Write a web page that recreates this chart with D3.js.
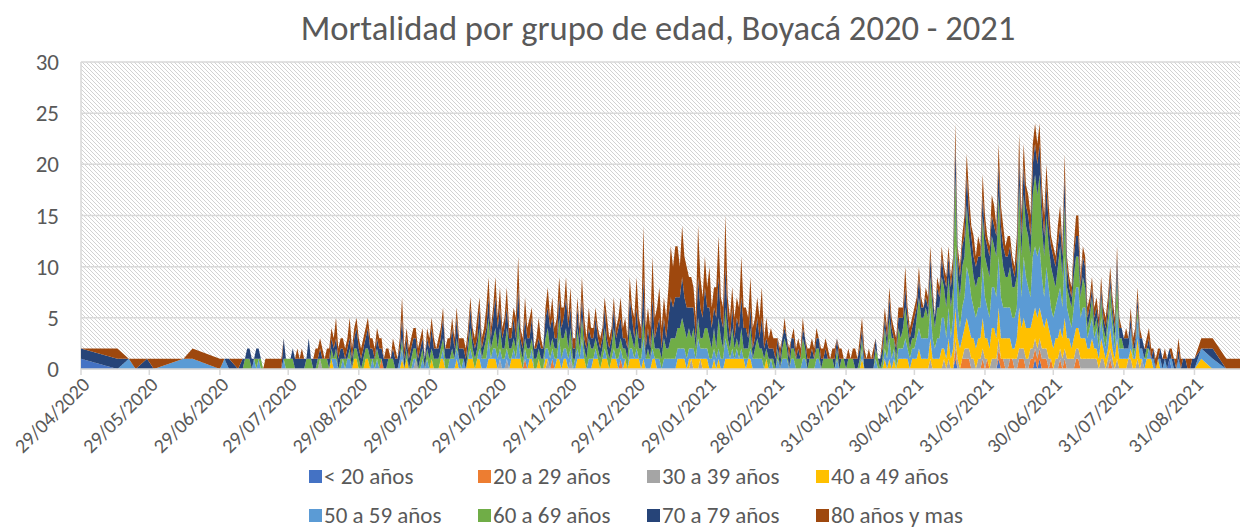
<!DOCTYPE html>
<html lang="es">
<head>
<meta charset="UTF-8">
<title>Mortalidad por grupo de edad, Boyacá 2020 - 2021</title>
<script src="https://cdn.jsdelivr.net/npm/d3@7"></script>
<style>
  body { margin: 0; background: #fff; }
  svg { display: block; font-family: Carlito, Calibri, Lato, sans-serif; }
</style>
</head>
<body>
<svg id="chart" width="1240" height="532"></svg>
<script>
// grupos de edad y colores (orden de apilado, de abajo hacia arriba)
const grupos = ["< 20 años", "20 a 29 años", "30 a 39 años", "40 a 49 años",
                "50 a 59 años", "60 a 69 años", "70 a 79 años", "80 años y mas"];
const colores = ["#4472C4", "#ED7D31", "#A5A5A5", "#FFC000",
                 "#5B9BD5", "#70AD47", "#264478", "#9E480E"];

// fechas: primeros registros dispersos, luego serie diaria, luego registros dispersos
const fechasIniciales = ["2020-04-29", "2020-05-15", "2020-05-20", "2020-05-23", "2020-05-28", "2020-05-31",
                         "2020-06-13", "2020-06-17", "2020-06-29", "2020-07-01", "2020-07-03", "2020-07-07"];
const inicioDiario = "2020-07-09";
const finDiario = "2021-08-31";
const fechasFinales = ["2021-09-03", "2021-09-08", "2021-09-14", "2021-09-20"];

const ticksX = ["2020-04-29", "2020-05-29", "2020-06-29", "2020-07-29", "2020-08-29", "2020-09-29",
                "2020-10-29", "2020-11-29", "2020-12-29", "2021-01-29", "2021-02-28", "2021-03-31",
                "2021-04-30", "2021-05-31", "2021-06-30", "2021-07-31", "2021-08-31"];
const ticksY = [0, 5, 10, 15, 20, 25, 30];

// muertes diarias por grupo (inicio, jul 2020 ... ago 2021, fin)
const menor20 = [
  1,0,0,0,0,0,0,0,0,0,0,0,
  0,0,0,0,0,0,0,0,0,0,0,0,0,0,0,0,0,0,0,0,0,0,0,
  0,0,0,0,0,0,0,0,0,0,0,0,0,0,0,0,0,0,0,0,0,0,0,0,0,0,0,0,0,0,0,
  0,0,0,0,0,0,0,0,0,0,0,0,0,0,0,0,0,0,0,0,0,0,0,0,0,0,0,0,0,0,
  0,0,0,0,0,0,0,0,0,0,0,0,0,0,0,0,0,0,0,0,0,0,0,0,0,0,0,0,0,0,0,
  0,0,0,0,0,0,0,0,0,0,0,0,0,0,0,0,0,0,0,0,0,0,0,0,0,0,0,0,0,0,
  0,0,0,0,0,0,0,0,0,0,0,0,0,0,0,0,0,0,0,0,0,0,0,0,0,0,0,0,0,0,0,
  0,0,0,0,0,0,0,0,0,0,0,0,0,0,0,0,0,0,0,0,0,0,0,0,0,0,0,0,0,0,0,
  0,0,0,0,0,0,0,0,0,0,0,0,0,0,0,0,0,0,0,0,0,0,0,0,0,0,0,0,
  0,0,0,0,0,0,0,0,0,0,0,0,0,0,0,0,0,0,0,0,0,0,0,0,0,0,0,0,0,0,0,
  0,0,0,0,0,0,0,0,0,0,0,0,0,0,0,0,0,0,0,0,0,0,0,0,0,0,0,0,0,0,
  0,0,0,0,0,0,0,0,0,0,0,0,0,0,0,0,0,1,0,0,0,0,0,0,0,0,0,0,0,0,0,
  0,0,0,0,0,1,0,0,0,0,0,0,0,0,0,0,0,0,0,0,0,1,0,1,0,0,0,0,0,0,
  0,0,0,0,0,0,0,0,0,0,0,0,0,0,0,0,0,0,0,0,0,0,0,0,0,0,0,0,0,0,0,
  0,0,0,0,0,0,0,0,0,0,0,0,0,0,0,0,0,0,0,1,0,0,0,0,0,0,0,0,0,0,0,
  0,0,0,0
];
const veinte = [
  0,0,0,0,0,0,0,0,0,0,0,0,
  0,0,0,0,0,0,0,0,0,0,0,0,0,0,0,0,0,0,0,0,0,0,0,
  0,0,0,0,0,0,0,0,0,0,0,0,0,0,0,0,0,0,0,0,0,0,0,0,0,0,0,0,0,0,0,
  0,0,0,0,0,0,0,1,0,0,0,0,0,0,0,0,0,0,0,0,0,0,0,0,0,0,0,0,0,0,
  0,0,0,0,0,0,0,0,0,0,0,0,0,0,0,0,0,0,0,0,0,0,0,0,0,0,0,0,0,0,0,
  0,0,0,0,0,0,0,0,0,1,0,0,0,0,0,0,0,0,0,0,0,1,0,0,0,0,0,0,0,0,
  0,0,0,0,0,0,0,0,0,0,0,0,0,0,0,0,0,0,0,0,0,1,0,0,0,0,0,0,0,0,0,
  0,0,0,0,0,0,0,0,0,0,0,0,0,0,0,0,0,0,0,0,0,0,0,0,0,0,0,0,0,0,0,
  0,0,0,0,0,0,0,0,0,0,0,0,0,0,0,0,0,0,0,0,0,0,0,0,0,0,0,0,
  0,0,0,0,0,0,0,0,0,0,0,0,0,0,0,0,0,0,0,0,0,0,0,0,0,0,0,0,0,0,0,
  0,0,0,0,0,0,0,0,0,0,0,0,0,0,0,0,0,0,0,0,0,0,0,0,0,0,0,0,0,0,
  0,0,0,0,0,0,0,0,0,0,0,0,0,0,0,0,0,1,0,0,1,1,1,1,0,0,0,0,0,1,0,
  1,0,0,0,0,1,1,1,0,0,1,1,0,0,1,1,1,0,0,1,1,1,1,1,1,1,1,0,1,0,
  0,0,1,0,1,0,0,0,0,1,1,0,0,0,0,0,0,0,0,0,0,0,0,0,1,0,0,0,0,0,0,
  0,0,0,0,0,0,0,0,0,0,0,0,0,0,0,0,0,0,0,0,0,0,0,0,0,0,0,0,0,0,0,
  0,0,0,0
];
const treinta = [
  0,0,0,0,0,0,0,0,0,0,0,0,
  0,0,0,0,0,0,0,0,0,0,0,0,0,0,0,0,0,0,0,0,0,0,0,
  0,0,0,0,0,0,0,0,0,0,0,1,0,0,0,0,0,0,0,0,0,0,0,0,0,0,0,0,0,0,0,
  0,0,0,0,0,0,0,0,0,0,0,0,0,0,0,0,0,0,0,0,0,0,1,0,0,0,0,0,0,0,
  0,0,0,0,0,0,0,0,0,0,0,0,0,0,0,0,0,0,0,0,0,0,0,0,0,0,0,0,0,1,0,
  0,1,0,0,0,0,0,0,0,0,0,0,0,0,0,0,0,0,0,1,0,0,0,0,0,0,0,0,0,1,
  0,0,0,0,0,0,0,0,0,0,0,0,0,0,0,0,0,0,0,0,0,0,0,0,0,0,0,0,0,0,0,
  0,0,0,0,0,0,0,0,0,0,0,0,0,0,0,0,0,0,0,0,0,1,0,0,0,1,0,0,0,0,0,
  0,0,0,0,0,0,0,0,0,0,0,0,0,0,0,0,0,0,0,0,0,0,0,0,0,0,0,0,
  0,0,0,0,0,0,0,0,0,0,0,0,0,0,0,0,0,0,0,0,0,0,0,0,0,0,0,0,0,0,0,
  0,0,0,0,0,0,0,0,0,0,0,0,0,0,0,0,0,0,0,0,0,0,0,0,0,0,0,0,0,0,
  0,0,0,0,0,0,1,0,0,0,0,0,1,0,1,0,0,1,1,0,0,1,1,1,1,1,0,1,1,1,1,
  0,0,1,1,1,1,0,0,1,1,0,0,1,1,1,1,1,1,1,1,1,1,1,1,1,1,1,1,0,0,
  1,1,1,1,1,1,1,1,1,1,1,1,1,1,1,1,1,1,1,0,1,1,0,1,1,1,0,1,0,0,0,
  0,1,1,0,0,1,0,1,0,0,0,0,0,0,0,0,0,0,0,0,0,0,0,0,0,0,0,0,0,0,0,
  0,0,0,0
];
const cuarenta = [
  0,0,0,0,0,0,0,0,0,0,0,0,
  0,0,0,0,0,0,0,0,0,0,0,0,0,0,0,0,0,0,0,0,0,0,0,
  0,0,0,0,0,0,0,0,0,0,0,0,0,0,0,0,1,0,0,0,0,0,0,0,0,0,1,1,0,0,0,
  1,1,0,0,0,0,0,0,0,0,0,0,0,0,0,0,1,0,1,0,0,0,0,0,0,0,0,0,0,1,
  0,0,0,1,1,0,0,0,0,0,1,0,0,0,0,1,1,1,0,1,1,0,0,0,1,1,1,1,0,0,0,
  0,0,0,1,1,1,1,1,0,0,0,1,1,0,0,1,0,0,1,0,0,0,0,1,1,0,1,1,0,0,
  0,0,1,1,1,1,0,0,0,1,1,1,0,1,1,1,0,1,1,1,0,0,0,1,0,1,1,1,1,1,0,
  1,0,0,0,1,1,0,0,0,0,0,0,0,0,0,1,1,1,1,0,1,0,1,1,1,0,1,1,1,0,0,
  1,0,1,0,0,1,1,1,1,1,1,1,1,1,0,1,1,0,0,0,0,0,0,1,0,0,0,0,
  0,0,0,0,0,0,0,0,0,0,0,0,0,0,0,0,0,0,0,0,0,0,0,0,0,0,0,0,0,0,0,
  0,0,0,0,0,0,1,0,0,0,0,0,0,0,0,0,1,0,1,0,1,0,1,1,1,1,1,0,1,1,
  1,2,1,1,1,1,2,1,1,1,1,2,1,1,2,1,2,3,2,2,2,2,3,2,2,2,2,2,2,3,2,
  2,2,3,3,2,3,2,2,2,2,2,1,1,2,4,2,3,3,3,2,3,3,3,3,3,2,3,3,2,2,
  2,2,2,2,3,2,2,1,2,2,2,2,2,2,1,1,2,1,1,1,2,1,1,1,2,1,1,2,1,1,1,
  1,0,1,1,1,2,1,0,0,1,1,1,0,0,1,0,0,0,0,0,0,0,0,0,0,0,0,0,0,0,0,
  1,0,0,0
];
const cincuenta = [
  0,0,1,0,0,0,1,1,0,1,0,0,
  0,0,0,0,0,1,0,1,0,0,0,0,0,0,0,0,0,0,1,0,0,0,0,
  0,0,0,0,0,0,0,0,0,0,0,0,0,0,0,0,0,1,1,0,0,1,0,1,1,0,0,0,0,0,0,
  0,0,0,1,0,1,0,0,0,0,0,0,0,0,0,1,1,0,0,0,0,1,0,0,0,1,0,1,0,0,
  0,0,0,0,1,0,0,1,1,1,1,1,0,1,0,0,1,0,0,0,1,1,1,1,2,0,1,1,1,1,1,
  1,1,1,0,1,0,2,0,0,1,1,0,1,0,0,0,0,0,1,1,1,1,1,0,2,1,1,1,1,1,
  0,1,1,0,2,0,0,1,1,0,1,0,0,0,1,0,0,0,1,0,1,1,1,0,0,1,1,0,1,0,1,
  2,1,1,1,1,0,1,1,0,1,1,1,1,1,1,1,1,1,1,1,1,1,1,0,2,1,1,1,1,1,1,
  1,1,1,1,1,2,1,0,1,0,1,0,1,0,1,0,1,1,1,1,1,1,0,0,0,1,0,0,
  1,0,1,1,1,0,1,1,0,0,0,1,1,0,0,0,0,1,1,0,0,0,0,0,0,0,1,0,0,0,0,
  0,0,0,0,0,0,1,0,0,0,0,0,1,0,0,0,1,1,2,1,1,0,1,1,1,2,1,1,1,1,
  2,2,2,2,2,2,3,2,1,2,2,3,3,2,3,2,3,6,3,2,3,3,5,5,4,3,3,3,3,5,4,
  3,3,4,4,4,5,4,3,3,3,3,3,3,3,6,3,6,5,4,3,6,6,6,6,4,3,5,4,3,3,
  3,4,4,3,6,3,2,2,3,4,4,2,3,3,1,2,2,1,2,1,2,1,1,2,2,2,1,3,1,1,1,
  1,1,2,0,1,2,1,1,1,0,1,0,1,0,0,1,0,1,0,0,1,0,0,1,0,0,0,0,0,0,0,
  1,1,0,0
];
const sesenta = [
  0,0,0,0,0,0,0,0,0,0,0,0,
  0,1,1,1,0,0,1,0,1,0,0,0,0,0,0,0,0,0,0,1,1,1,1,
  0,0,0,0,0,1,1,1,0,0,1,0,1,1,1,0,1,0,1,0,1,0,1,0,1,0,1,1,1,0,1,
  1,1,1,0,1,1,1,0,0,0,1,1,1,0,0,0,1,0,1,0,1,1,1,0,1,1,0,1,1,1,
  1,1,1,1,1,1,1,0,1,0,1,0,1,0,0,1,2,1,1,1,2,0,1,2,2,1,1,2,1,2,1,
  1,2,1,1,1,1,2,1,1,1,1,1,1,1,1,1,1,1,1,2,1,1,1,1,2,2,1,2,1,2,
  1,0,2,1,2,1,1,2,1,1,1,1,1,1,2,1,1,1,2,1,1,1,1,1,1,2,1,1,2,1,1,
  2,0,1,0,2,1,1,1,1,2,1,1,2,2,2,2,2,3,2,2,2,1,2,1,2,1,1,2,2,2,1,
  2,1,3,2,1,3,1,1,2,1,1,1,2,1,1,1,2,0,1,2,1,1,1,1,1,0,1,0,
  1,0,1,2,1,0,1,1,1,1,1,2,1,0,1,1,1,1,1,0,1,1,1,1,1,0,1,0,1,1,0,
  1,1,1,0,0,1,1,0,0,0,0,0,1,1,0,1,2,1,2,2,1,1,2,1,2,3,2,1,1,1,
  2,3,2,2,3,2,3,3,2,3,3,4,3,3,3,3,3,7,3,3,4,4,6,4,4,3,3,3,3,5,4,
  4,4,5,4,4,6,5,4,3,3,4,3,3,3,6,4,6,5,5,4,6,7,6,7,5,4,5,4,4,4,
  2,3,4,3,5,2,2,2,3,3,3,2,3,2,1,1,2,1,1,1,2,1,1,1,2,1,1,3,1,1,0,
  0,0,0,1,0,1,0,0,0,1,0,0,0,0,0,0,0,0,0,0,0,0,0,0,0,0,0,0,0,0,0,
  0,0,0,0
];
const setenta = [
  1,1,0,0,1,0,0,0,0,0,1,0,
  1,0,1,1,1,0,1,1,0,0,0,0,0,0,0,0,0,0,2,0,0,0,1,
  1,1,1,1,1,0,2,0,1,1,0,1,0,0,0,1,1,1,1,1,1,1,0,1,1,1,1,2,1,1,1,
  1,2,1,1,0,1,1,1,1,1,0,0,1,1,1,1,2,1,1,1,1,1,1,1,1,1,1,1,1,2,
  1,1,1,1,2,1,1,1,2,1,2,1,1,1,1,1,2,1,1,1,2,1,1,1,2,1,2,3,2,2,1,
  2,2,1,1,2,1,3,1,1,2,1,1,2,1,1,1,1,1,2,2,2,2,1,1,2,1,2,3,2,2,
  1,1,2,1,2,1,1,1,1,1,2,1,1,1,2,1,1,1,2,1,2,2,1,1,1,3,2,1,2,1,1,
  4,1,2,1,3,1,2,3,1,2,1,3,4,3,4,3,3,4,3,3,2,3,2,1,4,3,2,4,2,3,2,
  2,3,4,2,2,4,2,1,2,1,2,2,3,2,2,1,2,1,1,2,1,3,1,1,1,1,1,1,
  1,1,1,1,1,1,1,1,0,1,0,1,1,1,0,1,0,1,1,1,0,1,0,0,0,1,1,1,0,0,1,
  0,0,0,1,1,1,1,1,1,1,1,1,1,0,1,1,1,1,2,1,0,1,1,2,1,2,1,1,1,2,
  1,2,1,1,1,1,2,1,1,2,1,2,1,2,2,2,2,3,2,2,2,2,3,2,2,2,2,2,2,2,2,
  2,2,2,2,2,3,2,2,2,2,2,2,1,2,3,2,3,2,2,2,3,3,3,3,2,2,3,2,2,2,
  2,2,2,2,3,2,1,1,2,2,2,1,2,2,1,1,1,1,1,1,1,1,1,1,1,1,1,2,1,1,1,
  1,1,1,0,1,1,1,1,1,0,1,0,1,0,0,1,1,0,1,1,0,1,0,1,0,1,1,0,0,1,1,
  0,1,0,0
];
const ochenta = [
  0,1,0,1,0,1,0,1,1,0,0,1,
  0,0,0,0,0,0,0,0,0,0,1,1,1,1,1,1,1,1,0,0,0,0,0,
  0,1,0,1,0,0,0,0,0,1,1,1,1,0,1,1,1,1,2,1,1,1,1,1,2,1,1,1,1,1,1,
  1,1,1,1,1,1,1,1,0,1,1,0,1,1,0,1,2,1,1,1,1,1,1,1,1,1,0,1,1,1,
  1,0,1,1,1,0,1,1,1,1,1,1,1,1,1,1,1,1,1,2,1,1,1,2,2,1,1,2,1,2,1,
  1,2,1,1,1,2,3,1,1,2,1,2,1,0,1,2,1,0,1,2,1,2,1,2,2,2,1,2,1,2,
  1,1,1,1,2,2,1,2,1,1,1,1,1,1,1,2,1,1,1,1,1,2,1,2,1,2,1,2,3,2,1,
  5,2,2,2,4,2,2,3,2,2,2,3,5,4,5,5,3,5,4,4,3,3,2,2,5,3,2,3,2,4,2,
  2,3,4,2,2,5,2,2,2,2,2,2,4,2,2,2,3,2,2,2,2,3,1,2,1,2,1,2,
  0,1,0,1,0,1,0,1,1,1,1,1,0,1,1,1,1,1,0,1,1,1,1,0,1,1,0,1,1,0,0,
  1,0,1,1,0,1,1,1,0,1,0,1,0,0,0,1,1,1,1,1,1,1,1,1,1,2,1,1,1,1,
  1,1,1,0,1,1,1,1,0,1,1,1,1,1,1,1,1,2,1,1,1,2,2,2,1,2,1,2,1,2,2,
  1,1,2,2,1,2,2,2,1,2,1,1,1,2,2,2,2,2,2,2,2,2,2,2,2,2,2,2,1,1,
  1,2,2,1,2,1,1,1,1,2,2,1,1,1,1,1,1,1,1,1,1,1,1,1,1,1,1,1,1,0,0,
  1,0,1,1,1,1,1,0,0,1,1,1,0,1,1,0,0,1,0,0,1,0,1,1,1,0,0,1,1,0,0,
  1,1,1,1
];

const series = [menor20, veinte, treinta, cuarenta, cincuenta, sesenta, setenta, ochenta];

const margen = { izq: 81, der: 1240, arriba: 62, abajo: 369 };
const gris = "#595959";
const lineaGris = "#d9d9d9";

const parse = d3.utcParse("%Y-%m-%d");
const fmt = d3.utcFormat("%d/%m/%Y");

const fechas = fechasIniciales.map(parse)
  .concat(d3.utcDay.range(parse(inicioDiario), d3.utcDay.offset(parse(finDiario), 1)))
  .concat(fechasFinales.map(parse));

const filas = fechas.map((f, i) => {
  const o = { fecha: f };
  grupos.forEach((g, j) => { o[g] = series[j][i] || 0; });
  return o;
});

const pila = d3.stack().keys(grupos)(filas);

const x = d3.scaleUtc()
  .domain([parse("2020-04-29"), parse("2021-09-20")])
  .range([margen.izq, margen.der]);
const y = d3.scaleLinear().domain([0, 30]).range([margen.abajo, margen.arriba]);

const svg = d3.select("#chart");

// trama diagonal del fondo del área de trazado
const defs = svg.append("defs");
const trama = defs.append("pattern")
  .attr("id", "rayas")
  .attr("patternUnits", "userSpaceOnUse")
  .attr("width", 4).attr("height", 4);
trama.append("rect").attr("width", 4).attr("height", 4).attr("fill", "#fff");
trama.append("path")
  .attr("d", "M-1,-1 L5,5 M3,-1 L5,1 M-1,3 L1,5")
  .attr("stroke", "#d2d2d2")
  .attr("stroke-width", 1);

svg.append("rect")
  .attr("x", margen.izq).attr("y", margen.arriba)
  .attr("width", margen.der - margen.izq)
  .attr("height", margen.abajo - margen.arriba)
  .attr("fill", "url(#rayas)");

// líneas de cuadrícula
svg.append("g").selectAll("line").data(ticksY).join("line")
  .attr("x1", margen.izq).attr("x2", margen.der)
  .attr("y1", d => y(d)).attr("y2", d => y(d))
  .attr("stroke", lineaGris).attr("stroke-width", 1.5);

svg.append("line")
  .attr("x1", margen.izq).attr("x2", margen.izq)
  .attr("y1", margen.arriba).attr("y2", margen.abajo)
  .attr("stroke", lineaGris).attr("stroke-width", 1.5);

// áreas apiladas
const area = d3.area()
  .x(d => x(d.data.fecha))
  .y0(d => y(d[0]))
  .y1(d => y(d[1]));

svg.append("g").selectAll("path").data(pila).join("path")
  .attr("d", area)
  .attr("fill", (d, i) => colores[i]);

// eje x
svg.append("line")
  .attr("x1", margen.izq).attr("x2", margen.der)
  .attr("y1", margen.abajo).attr("y2", margen.abajo)
  .attr("stroke", lineaGris).attr("stroke-width", 1.5);

const gx = svg.append("g");
gx.selectAll("line").data(ticksX).join("line")
  .attr("x1", d => x(parse(d))).attr("x2", d => x(parse(d)))
  .attr("y1", margen.abajo).attr("y2", margen.abajo + 6)
  .attr("stroke", lineaGris).attr("stroke-width", 1.5);

gx.selectAll("text").data(ticksX).join("text")
  .attr("transform", d => `translate(${x(parse(d)) + 5},${margen.abajo + 12}) rotate(-45)`)
  .attr("text-anchor", "end")
  .attr("dy", "0.35em")
  .attr("font-size", 20)
  .attr("fill", gris)
  .text(d => fmt(parse(d)));

// eje y
svg.append("g").selectAll("text").data(ticksY).join("text")
  .attr("x", 59).attr("y", d => y(d))
  .attr("dy", "0.35em")
  .attr("text-anchor", "end")
  .attr("font-size", 23)
  .attr("fill", gris)
  .text(d => d);

// título
const titulo = svg.append("text")
  .attr("x", 658).attr("y", 40)
  .attr("text-anchor", "middle")
  .attr("font-size", 34)
  .attr("fill", gris)
  .text("Mortalidad por grupo de edad, Boyacá 2020 - 2021");
const anchoTitulo = titulo.node().getComputedTextLength();
titulo.attr("font-size", 34 * 715 / anchoTitulo);

// leyenda
const colX = [309, 478, 647, 816];
const filaY = [476, 515];
const leyenda = svg.append("g").selectAll("g").data(grupos).join("g")
  .attr("transform", (d, i) => `translate(${colX[i % 4]},${filaY[Math.floor(i / 4)]})`);
leyenda.append("rect")
  .attr("x", 0).attr("y", -6).attr("width", 13).attr("height", 13)
  .attr("fill", (d, i) => colores[i]);
leyenda.append("text")
  .attr("x", 15).attr("dy", "0.35em")
  .attr("font-size", 23)
  .attr("fill", gris)
  .text(d => d);

// comprobación de longitudes
const malas = series.map((s, i) => [grupos[i], s.length]).filter(d => d[1] !== fechas.length);
if (malas.length) {
  setTimeout(() => { throw new Error("longitud esperada " + fechas.length + ": " + JSON.stringify(malas)); });
}
</script>
</body>
</html>
